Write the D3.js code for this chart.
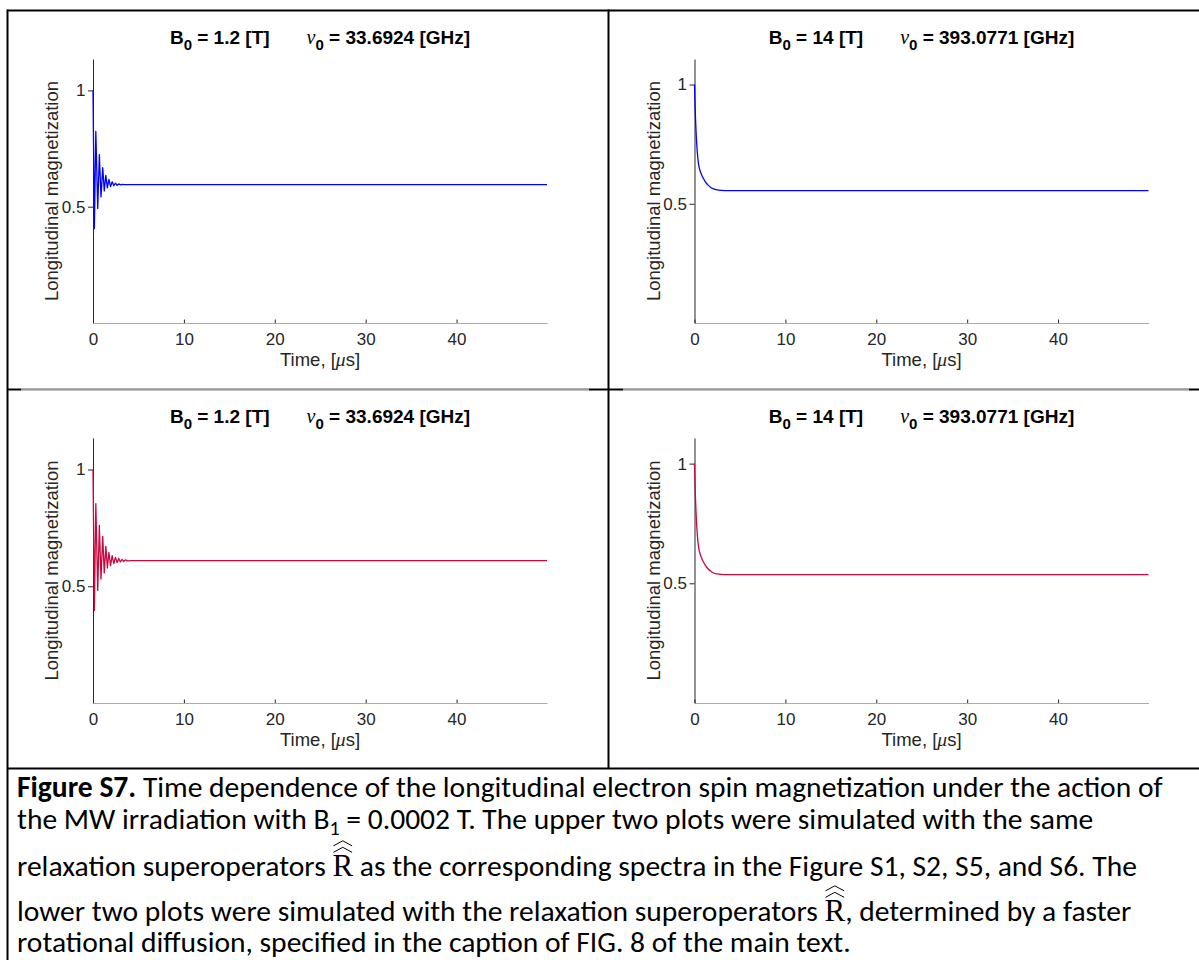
<!DOCTYPE html>
<html>
<head>
<meta charset="utf-8">
<script src="https://cdn.jsdelivr.net/npm/d3@7"></script>
<style>
  body { margin: 0; background: #fff; }
  svg { display: block; }
  text { white-space: pre; }
</style>
</head>
<body>
<svg id="fig" width="1199" height="960"></svg>
<script>
// ---- data: longitudinal magnetization vs time (µs) ----
// upper-left: B0 = 1.2 T, damped nutation
const timeTL = [0, 0.15, 0.31, 0.52, 0.70, 0.88, 1.07, 1.24, 1.41, 1.58, 1.75, 1.93, 2.11, 2.29, 2.47, 2.65, 2.83, 3.01, 3.2, 3.5, 4.0, 49.95];
const magTL  = [1.0, 0.406, 0.824, 0.492, 0.724, 0.542, 0.668, 0.568, 0.635, 0.581, 0.617, 0.587, 0.607, 0.590, 0.601, 0.592, 0.598, 0.594, 0.596, 0.595, 0.595, 0.595];

// upper-right: B0 = 14 T, monotonic decay
const timeTR = [0, 0.05, 0.1, 0.15, 0.2, 0.3, 0.4, 0.5, 0.6, 0.8, 1.0, 1.2, 1.5, 1.8, 2.1, 2.5, 3.0, 3.5, 49.95];
const magTR  = [1.0, 0.93, 0.87, 0.82, 0.78, 0.72, 0.68, 0.655, 0.64, 0.62, 0.605, 0.592, 0.578, 0.568, 0.562, 0.558, 0.556, 0.555, 0.555];

// lower-left: B0 = 1.2 T, faster rotational diffusion
const timeBL = [0, 0.15, 0.31, 0.52, 0.70, 0.88, 1.07, 1.24, 1.41, 1.58, 1.75, 1.93, 2.11, 2.29, 2.47, 2.65, 2.83, 3.01, 3.2, 3.38, 3.56, 3.8, 4.2, 49.95];
const magBL  = [1.0, 0.396, 0.854, 0.482, 0.761, 0.531, 0.714, 0.557, 0.671, 0.578, 0.645, 0.588, 0.631, 0.597, 0.624, 0.601, 0.619, 0.604, 0.615, 0.606, 0.613, 0.609, 0.61, 0.61];

// lower-right: B0 = 14 T, faster rotational diffusion
const timeBR = [0, 0.05, 0.1, 0.15, 0.2, 0.3, 0.4, 0.5, 0.6, 0.8, 1.0, 1.2, 1.5, 1.8, 2.1, 2.5, 3.0, 3.5, 49.95];
const magBR  = [1.0, 0.927, 0.865, 0.812, 0.771, 0.708, 0.666, 0.640, 0.625, 0.604, 0.588, 0.575, 0.560, 0.550, 0.543, 0.539, 0.537, 0.536, 0.536];

// axis ticks and limits
const xTicks = [0, 10, 20, 30, 40];
const yTicks = [0.5, 1];
const xLimit = [0, 49.95];
const yLimitLow = [0, 1.135];   // 1.2 T panels
const yLimitHigh = [0, 1.107];  // 14 T panels

// panel titles
const fieldLabels = ["1.2", "14"];
const freqLabels = ["33.6924", "393.0771"];

const captionLines = [
  "Time dependence of the longitudinal electron spin magnetization under the action of",
  "the MW irradiation with B",
  " = 0.0002 T. The upper two plots were simulated with the same",
  "relaxation superoperators ",
  " as the corresponding spectra in the Figure S1, S2, S5, and S6. The",
  "lower two plots were simulated with the relaxation superoperators ",
  ", determined by a faster",
  "rotational diffusion, specified in the caption of FIG. 8 of the main text."
];

// ---- drawing ----
const svg = d3.select("#fig");
const SANS = "Arial, 'Liberation Sans', Helvetica, sans-serif";
const SERIF = "'Times New Roman', 'Liberation Serif', serif";
const TICK_COLOR = "#262626";

const panels = [
  { t: timeTL, m: magTL, field: fieldLabels[0], freq: freqLabels[0], color: "#0000ff", ylim: yLimitLow,  x0: 93,    y0: 59,  y1: 323 },
  { t: timeTR, m: magTR, field: fieldLabels[1], freq: freqLabels[1], color: "#0000ff", ylim: yLimitHigh, x0: 694.5, y0: 59,  y1: 323 },
  { t: timeBL, m: magBL, field: fieldLabels[0], freq: freqLabels[0], color: "#c8083f", ylim: yLimitLow,  x0: 93,    y0: 438, y1: 703 },
  { t: timeBR, m: magBR, field: fieldLabels[1], freq: freqLabels[1], color: "#c8083f", ylim: yLimitHigh, x0: 694.5, y0: 438, y1: 703 }
];
const plotWidth = 454;

panels.forEach(p => {
  const g = svg.append("g");
  const x = d3.scaleLinear().domain(xLimit).range([p.x0, p.x0 + plotWidth]);
  const y = d3.scaleLinear().domain(p.ylim).range([p.y1, p.y0]);
  const cx = p.x0 + plotWidth / 2;

  // x axis: light baseline, short inward ticks
  const xa = g.append("g").attr("transform", `translate(0,${p.y1})`)
    .call(d3.axisBottom(x).tickValues(xTicks).tickFormat(d3.format("d"))
      .tickSize(-3.5).tickSizeOuter(0).tickPadding(9.5));
  xa.select(".domain").attr("stroke", "#ababab").attr("stroke-width", 1);
  xa.selectAll(".tick line").attr("stroke", TICK_COLOR);
  xa.selectAll(".tick text").attr("fill", TICK_COLOR)
    .style("font-family", SANS).style("font-size", "17px");

  // y axis
  const ya = g.append("g").attr("transform", `translate(${p.x0},0)`)
    .call(d3.axisLeft(y).tickValues(yTicks).tickFormat(d => d === 1 ? "1" : d3.format(".1f")(d))
      .tickSize(5).tickSizeOuter(0).tickPadding(2.5));
  ya.select(".domain").attr("stroke", TICK_COLOR).attr("stroke-width", 1);
  ya.selectAll(".tick line").attr("stroke", TICK_COLOR);
  ya.selectAll(".tick text").attr("fill", TICK_COLOR)
    .style("font-family", SANS).style("font-size", "17px");

  // curve
  const series = p.t.map((tv, i) => [tv, p.m[i]]);
  g.append("path").datum(series)
    .attr("fill", "none").attr("stroke", p.color).attr("stroke-width", 1.3)
    .attr("stroke-linejoin", "round")
    .attr("d", d3.line().x(d => x(d[0])).y(d => y(d[1]))
      .curve(p.t === timeTR || p.t === timeBR ? d3.curveMonotoneX : d3.curveLinear));

  // title
  const tt = g.append("text").attr("x", cx).attr("y", p.y0 - 15.5).attr("text-anchor", "middle")
    .style("font-family", SANS).style("font-weight", "bold").style("font-size", "19px").attr("fill", "#000");
  tt.append("tspan").text("B");
  tt.append("tspan").attr("dy", 6.5).style("font-size", "15px").text("0");
  tt.append("tspan").attr("dy", -6.5).text(` = ${p.field} [T]`);
  tt.append("tspan").attr("dx", 37).style("font-family", SERIF).style("font-style", "italic")
    .style("font-weight", "normal").style("font-size", "20px").text("ν");
  tt.append("tspan").attr("dy", 6.5).style("font-size", "15px").text("0");
  tt.append("tspan").attr("dy", -6.5).text(` = ${p.freq} [GHz]`);

  // x label
  const xl = g.append("text").attr("x", cx).attr("y", p.y1 + 43).attr("text-anchor", "middle")
    .style("font-family", SANS).style("font-size", "18.5px").attr("fill", TICK_COLOR);
  xl.append("tspan").text("Time, [");
  xl.append("tspan").style("font-family", SERIF).style("font-style", "italic").style("font-size", "19.5px").text("μ");
  xl.append("tspan").text("s]");

  // y label
  g.append("text")
    .attr("transform", `translate(${p.x0 - 35},${(p.y0 + p.y1) / 2}) rotate(-90)`)
    .attr("text-anchor", "middle")
    .style("font-family", SANS).style("font-size", "18.5px").attr("fill", TICK_COLOR)
    .text("Longitudinal magnetization");
});

// ---- table frame ----
const frame = svg.append("g").attr("stroke", "#000").attr("stroke-width", 2).attr("fill", "none");
frame.append("line").attr("x1", 7).attr("x2", 1199).attr("y1", 10.5).attr("y2", 10.5);
frame.append("line").attr("x1", 7.5).attr("x2", 7.5).attr("y1", 9.5).attr("y2", 960);
frame.append("line").attr("x1", 608.5).attr("x2", 608.5).attr("y1", 9.5).attr("y2", 768);
frame.append("line").attr("x1", 7).attr("x2", 1199).attr("y1", 768.5).attr("y2", 768.5);
// row divider: the images' light edges sit over the rule
frame.append("line").attr("x1", 7).attr("x2", 1199).attr("y1", 389.5).attr("y2", 389.5);
[[21, 589], [623, 1189]].forEach(([a, b]) => {
  svg.append("line").attr("x1", a).attr("x2", b).attr("y1", 389.5).attr("y2", 389.5)
    .attr("stroke", "#fff").attr("stroke-width", 2.2);
  svg.append("line").attr("x1", a).attr("x2", b).attr("y1", 389.2).attr("y2", 389.2)
    .attr("stroke", "#9c9c9c").attr("stroke-width", 1.4);
});

// ---- caption ----
const CAP = "Carlito, Calibri, Lato, 'Open Sans', sans-serif";
const capX = 17;
const baselines = [797, 829, 876, 921, 952];
let capSize = 22;

const cap = svg.append("g").attr("fill", "#000").style("font-family", CAP);

function buildCaption(size) {
  cap.selectAll("*").remove();
  const t1 = cap.append("text").attr("x", capX).attr("y", baselines[0]).style("font-size", size + "px");
  t1.append("tspan").style("font-weight", "bold").text("Figure S7.");
  t1.append("tspan").text(" " + captionLines[0]);

  const t2 = cap.append("text").attr("x", capX).attr("y", baselines[1]).style("font-size", size + "px");
  t2.append("tspan").text(captionLines[1]);
  t2.append("tspan").attr("dy", size * 0.2).style("font-size", (size * 0.68) + "px").text("1");
  t2.append("tspan").attr("dy", -size * 0.2).text(captionLines[2]);

  const withHat = (yb, before, after) => {
    const t = cap.append("text").attr("x", capX).attr("y", yb).style("font-size", size + "px");
    t.append("tspan").text(before);
    t.append("tspan").style("font-family", SERIF).style("font-size", (size * 1.05) + "px").text("R");
    t.append("tspan").text(after);
    const idx = before.length;
    const sx = t.node().getStartPositionOfChar(idx).x;
    const w = t.node().getSubStringLength(idx, 1);
    const hat = d3.line();
    [0.8, 1.02].forEach(level => {
      const base = yb - size * level;
      cap.append("path")
        .attr("d", hat([[sx + 1, base], [sx + w / 2, base - size * 0.17], [sx + w - 1, base]]))
        .attr("fill", "none").attr("stroke", "#000").attr("stroke-width", 1);
    });
  };
  withHat(baselines[2], captionLines[3], captionLines[4]);
  withHat(baselines[3], captionLines[5], captionLines[6]);

  cap.append("text").attr("x", capX).attr("y", baselines[4]).style("font-size", size + "px")
    .text(captionLines[7]);
  return t1.node().getComputedTextLength();
}

const len = buildCaption(capSize);
capSize = capSize * 1146 / len;
buildCaption(capSize);
</script>
</body>
</html>
